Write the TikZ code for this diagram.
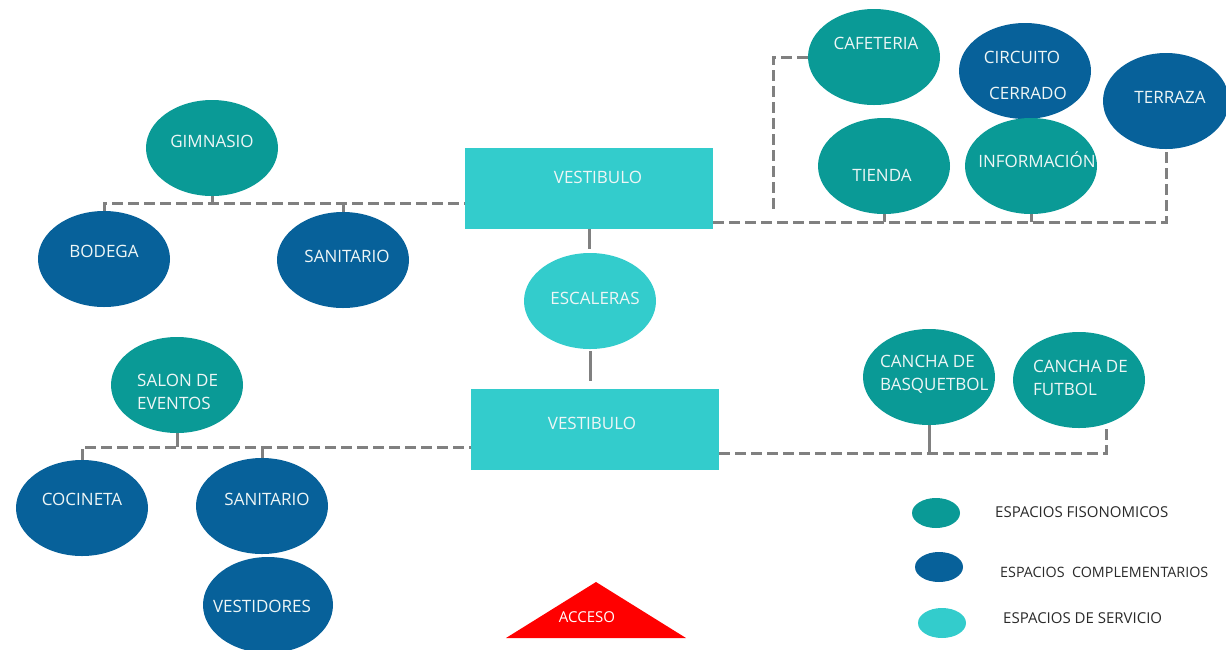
\documentclass[tikz,border=0pt]{standalone}
\usepackage{fontspec}
\setmainfont{Open Sans}
\usetikzlibrary{shapes.geometric}
\definecolor{teal1}{HTML}{0A9A96}
\definecolor{dblue}{HTML}{07619A}
\definecolor{lcyan}{HTML}{33CCCC}
\definecolor{lgray}{HTML}{808080}
\definecolor{txt}{HTML}{EEF6F6}
\definecolor{legtxt}{HTML}{2A2A2A}
\pgfdeclarelayer{bg}
\pgfsetlayers{bg,main}
\tikzset{
 sp/.style={ellipse, draw=none, inner sep=0pt, minimum width=132pt, minimum height=96pt},
 fis/.style={sp, fill=teal1},
 com/.style={sp, fill=dblue},
 ser/.style={sp, fill=lcyan},
 vestbox/.style={rectangle, draw=none, fill=lcyan, inner sep=0pt, minimum width=248pt, minimum height=81pt},
 legsp/.style={ellipse, draw=none, inner sep=0pt, minimum width=48pt, minimum height=30pt},
 lbl/.style={text=txt, font=\fontsize{17}{22.5}\selectfont, align=left, inner sep=0pt},
 legl/.style={text=legtxt, font=\fontsize{15}{18}\selectfont, anchor=west, inner sep=0pt},
 conn/.style={draw=lgray, line width=3pt, dash pattern=on 11pt off 5pt},
 sconn/.style={draw=lgray, line width=3pt},
}
\begin{document}
\begin{tikzpicture}[x=1pt,y=-1pt]
\useasboundingbox (0,0) rectangle (1226,649);

% shapes
\node[fis] (gim) at (212,148) {};
\node[com] (bod) at (104,259) {};
\node[com] (san1) at (343,260) {};
\node[vestbox] (vest1) at (589,188.5) {};
\node[ser] (esc) at (590,301) {};
\node[vestbox] (vest2) at (595,429.5) {};
\node[fis] (caf) at (874,57) {};
\node[com] (cir) at (1025,71) {};
\node[com, minimum width=126pt] (ter) at (1166,101) {};
\node[fis] (tie) at (884,166) {};
\node[fis] (inf) at (1031,166) {};
\node[fis] (sal) at (177,385) {};
\node[com] (coc) at (82,508) {};
\node[com] (san2) at (262,506) {};
\node[com, minimum width=130pt] (ves) at (268,605) {};
\node[fis] (bas) at (929,377) {};
\node[fis] (fut) at (1079,380) {};

% labels
\node[lbl] (tgim) at (212,141) {GIMNASIO};
\node[lbl] (tbod) at (104,251) {BODEGA};
\node[lbl] (tsan1) at (347,256) {SANITARIO};
\node[lbl] (tvest1) at (598,177) {VESTIBULO};
\node[lbl] (tesc) at (595,298) {ESCALERAS};
\node[lbl] (tvest2) at (592,423) {VESTIBULO};
\node[lbl] (tcaf) at (876,43) {CAFETERIA};
\node[lbl] (tcir1) at (1022,57) {CIRCUITO};
\node[lbl] (tcir2) at (1028,93) {CERRADO};
\node[lbl] (tter) at (1170,97) {TERRAZA};
\node[lbl] (ttie) at (882,175) {TIENDA};
\node[lbl] (tinf) at (1037,160) {INFORMACIÓN};
\node[lbl, anchor=north west] (tsal) at (137,374) {SALON DE\\EVENTOS};
\node[lbl, anchor=north west] (tbas) at (880,355) {CANCHA DE\\BASQUETBOL};
\node[lbl, anchor=north west] (tfut) at (1033,360) {CANCHA DE\\FUTBOL};
\node[lbl] (tcoc) at (82,499) {COCINETA};
\node[lbl] (tsan2) at (267,499) {SANITARIO};
\node[lbl] (tves) at (262,606) {VESTIDORES};

% legend
\node[legsp, fill=teal1] (leg1) at (936,513) {};
\node[legsp, fill=dblue] (leg2) at (939,567) {};
\node[legsp, fill=lcyan] (leg3) at (942,623) {};
\node[legl] (tleg1) at (995,512) {ESPACIOS FISONOMICOS};
\node[legl, font=\fontsize{14.3}{18}\selectfont] (tleg2) at (1000,572) {ESPACIOS\ \ COMPLEMENTARIOS};
\node[legl] (tleg3) at (1003,618) {ESPACIOS DE SERVICIO};

% acceso
\fill[red] (596,582) -- (686,638) -- (506,638) -- cycle;
\node[lbl, text=white, font=\fontsize{15}{18}\selectfont] (tacc) at (587,617) {ACCESO};

% connectors
\coordinate (cafend) at (773,212);
\begin{pgfonlayer}{bg}
\draw[conn] (bod.north) |- (vest1.west |- 0,203);
\draw[sconn] (gim.south) -- (gim.south |- 0,203);
\draw[sconn] (san1.north) -- (san1.north |- 0,203);
\draw[sconn, shorten >=4pt] (vest1.south) -- (vest1.south |- esc.north);
\draw[sconn, shorten <=2pt, shorten >=8pt] (esc.south) -- (esc.south |- vest2.north);
\draw[conn] (vest1.east |- 0,222) -| (ter.south);
\draw[sconn] (tie.south) -- (tie.south |- 0,222);
\draw[sconn] (inf.south) -- (inf.south |- 0,222);
\draw[conn] (caf.west) -| (cafend);
\draw[conn] (coc.north) |- (vest2.west |- 0,447);
\draw[sconn] (sal.south) -- (sal.south |- 0,447);
\draw[sconn] (san2.north) -- (san2.north |- 0,447);
\draw[conn] (vest2.east |- 0,453) -| (fut.south -| 1106,0);
\draw[sconn] (bas.south) -- (bas.south |- 0,453);
\end{pgfonlayer}
\end{tikzpicture}
\end{document}
